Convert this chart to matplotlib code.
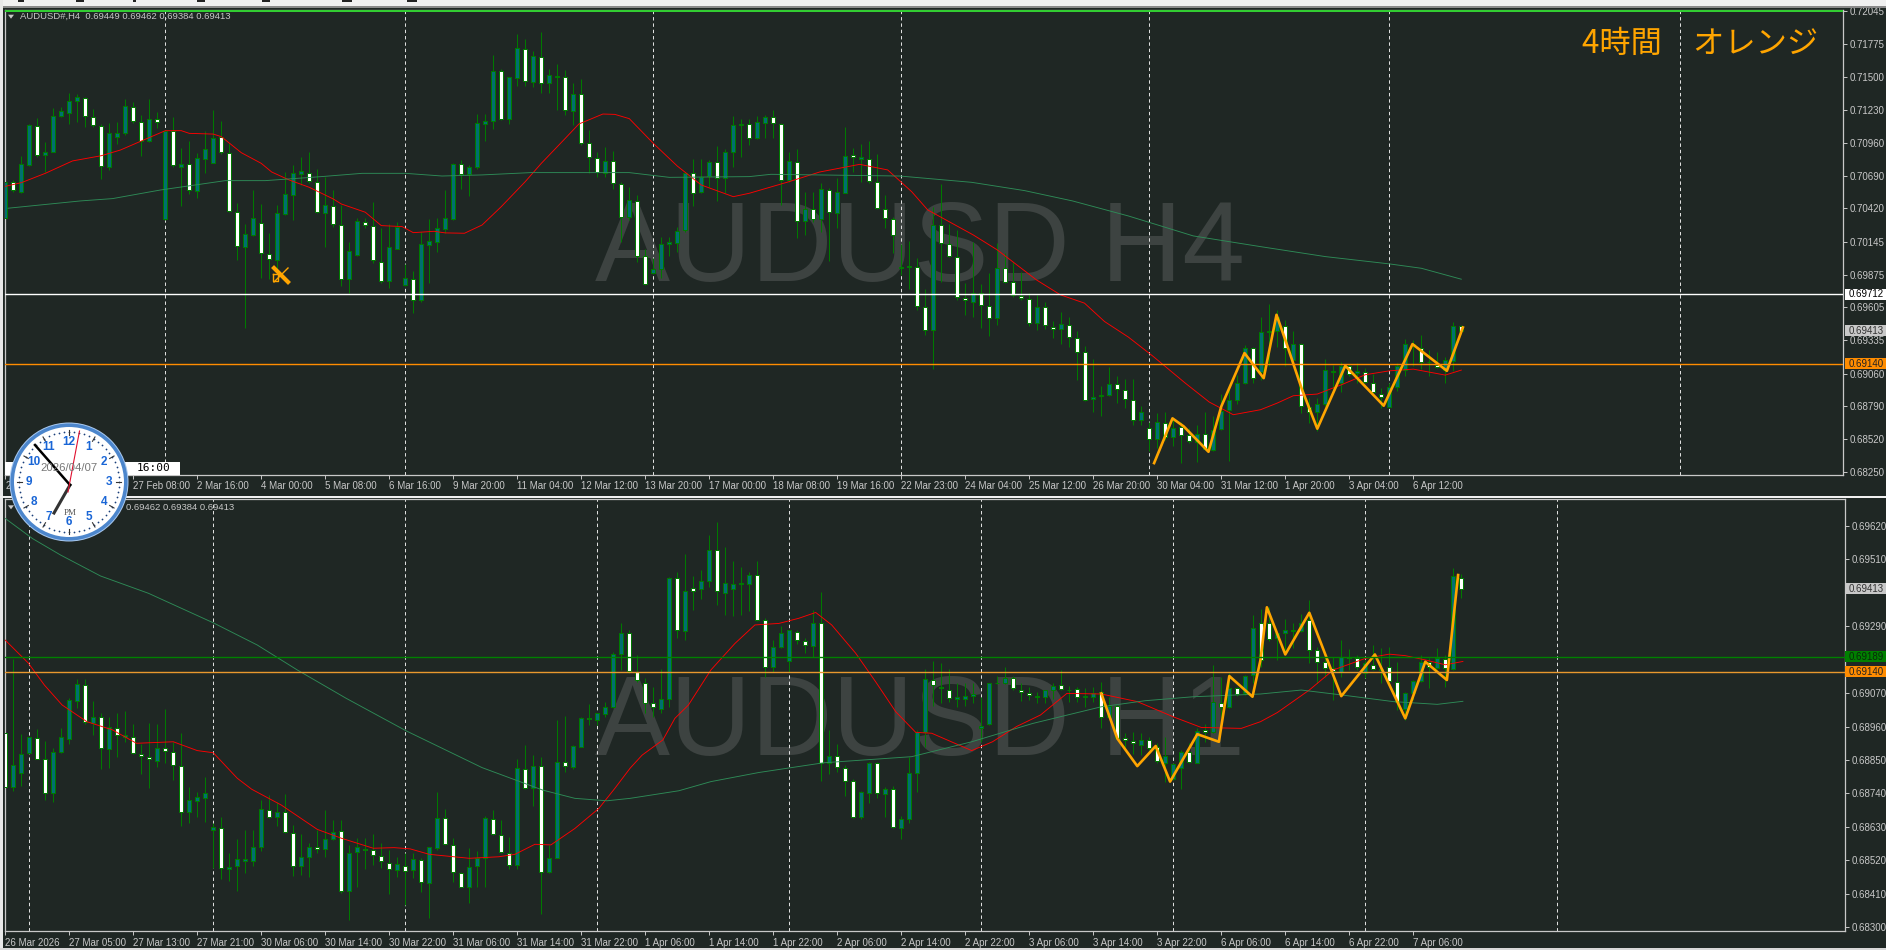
"""AUDUSD H4 / H1 MetaTrader screenshot, redrawn."""

import numpy as np
import matplotlib
matplotlib.use("Agg")
import matplotlib.pyplot as plt
from matplotlib.patches import Rectangle, Circle

# prices are in points (1e-5)
h4_open = [70338,70640,70557,70777,71100,70856,70886,71182,71207,71306,71330,71174,71100,70763,71010,71037,71251,71133,70977,71152,
           70336,71059,70763,70782,70566,70829,70796,71004,70878,70393,70105,70204,70303,70048,69999,70377,70533,70705,70714,70640,
           70385,70443,70286,69837,70040,70311,70278,69982,69826,70089,69790,69842,69662,70119,70146,70253,70333,70782,70703,70758,
           71117,71136,71552,71158,71495,71733,71462,71667,71448,71503,71503,71223,71363,70960,70837,70714,70812,70618,70347,70484,
           70029,69892,69919,70125,70138,70242,70714,70552,70686,70804,70667,70886,71103,71114,70996,71125,71174,71117,70653,70804,
           70319,70415,70330,70574,70385,70549,70862,70829,70829,70640,70418,70336,69928,69941,69941,69612,69415,70283,70130,70023,
           69686,69653,69724,69620,69516,69930,69810,69700,69678,69475,69612,69445,69426,69461,69355,69240,68850,68872,68881,68971,
           68927,68845,68675,68615,68522,68656,68535,68620,68557,68500,68560,68428,68604,68757,68842,68982,69267,69073,69401,69407,
           69453,69174,69300,68785,68741,68807,69075,68982,69119,69064,69075,68987,68894,68785,68946,69086,69294,69272,69157,69133,
           69086,69168,69449]
h4_high = [70708,70654,70853,71114,71160,70963,71248,71251,71366,71360,71338,71234,71114,71119,71133,71319,71297,71188,71319,71215,
           71064,71169,70914,70977,70873,71059,71229,71138,70955,70462,70292,70571,70456,70215,70448,70722,70777,70840,70886,70741,
           70681,70571,70448,70141,70338,70338,70473,70262,70292,70311,69963,69908,70223,70333,70338,70571,70790,70818,70777,71193,
           71193,71681,71566,71497,71854,71812,71714,71870,71563,71604,71558,71448,71481,71064,70886,70922,70894,70640,70599,70530,
           70084,70010,70182,70182,70270,70722,70823,70823,70818,70936,70908,71180,71152,71152,71180,71188,71229,71125,70881,70905,
           70557,70557,70626,70585,70667,71089,70919,70947,70974,70867,70530,70352,70125,70149,70010,69755,70429,70621,70292,70242,
           69804,70146,69799,69886,70133,70051,69982,69900,69727,69708,69653,69489,69566,69525,69407,69289,69179,68955,69114,69037,
           69018,69018,68796,68659,68735,68741,68694,68659,68612,68640,68741,68708,68892,68955,69051,69294,69283,69530,69634,69585,
           69503,69407,69311,68859,68859,69179,69133,69155,69141,69146,69105,69059,68941,68982,69146,69346,69338,69379,69251,69234,
           69196,69486,69462]
h4_low = [70262,70557,70544,70768,70840,70722,70881,71174,71114,71133,71092,71086,70662,70736,70949,71023,71125,70851,70968,71078,
          70325,70763,70443,70538,70508,70714,70790,70867,70388,69996,69434,70193,69845,69837,69900,70366,70325,70612,70632,70379,
          70105,70270,69777,69727,70029,70256,69968,69804,69763,70084,69782,69557,69653,69804,70064,70215,70325,70577,70522,70741,
          70974,71070,71147,71114,71429,71426,71415,71366,71366,71229,71188,71106,70941,70714,70681,70681,70577,70146,70325,69982,
          69790,69881,69845,70029,70064,70229,70440,70544,70599,70484,70544,70763,70845,70941,70988,70996,70996,70448,70640,70174,
          70201,70311,70223,69990,70262,70544,70722,70640,70626,70415,70256,70051,69873,69755,69585,69379,69097,69818,70023,69667,
          69544,69530,69434,69371,69461,69804,69694,69667,69453,69420,69426,69352,69305,69283,69004,68831,68744,68708,68872,68818,
          68776,68634,68634,68420,68448,68516,68461,68324,68489,68333,68434,68420,68593,68338,68812,68976,68982,69010,69119,69283,
          69125,69160,68735,68653,68585,68796,68914,68905,69042,68982,68982,68900,68776,68776,68914,69042,69119,69097,69042,69105,
          68982,69078,69384]
h4_close = [70640,70571,70782,71103,70856,70886,71182,71218,71306,71333,71177,71103,70766,71037,71037,71259,71136,70974,71152,71127,
            71059,70774,70785,70571,70832,70905,71001,70884,70396,70111,70207,70338,70051,70004,70379,70541,70708,70730,70645,70390,
            70445,70289,69837,70067,70314,70281,69993,69826,70100,70270,69845,69664,70125,70149,70262,70338,70785,70705,70758,71119,
            71136,71552,71155,71497,71736,71467,71670,71448,71514,71506,71226,71363,70960,70840,70716,70812,70626,70352,70489,70029,
            69796,69919,70125,70141,70237,70714,70544,70681,70804,70667,70886,71103,71111,70996,71127,71174,71122,70651,70807,70316,
            70415,70330,70577,70388,70552,70848,70843,70840,70642,70423,70341,70201,69941,69946,69618,69420,70283,70133,70029,69694,
            69667,69722,69626,69516,69933,69812,69711,69683,69475,69612,69461,69429,69467,69360,69240,68845,68867,68883,68974,68935,
            68850,68678,68744,68522,68659,68535,68609,68557,68508,68563,68439,68598,68749,68840,68982,69270,69023,69401,69410,69530,
            69270,69303,68790,68741,68809,69086,69081,69119,69059,69078,68993,68911,68867,68946,69125,69303,69303,69155,69157,69111,
            69174,69453,69413]

h1_open = [68940,68762,68808,68872,68923,68852,68743,68877,68920,69045,69098,68973,68992,68887,68956,68927,68927,68871,68860,68848,
           68889,68877,68831,68678,68716,68725,68619,68628,68491,68500,68519,68517,68563,68687,68662,68680,68611,68500,68532,68564,
           68556,68589,68618,68421,68547,68559,68555,68536,68513,68487,68502,68489,68521,68445,68560,68660,68572,68480,68432,68500,
           68528,68655,68605,68546,68506,68822,68757,68829,68481,68529,68843,68828,68894,68989,68983,69002,69023,69197,69268,69139,
           69104,69038,69019,69049,69449,69275,69414,69413,69439,69539,69400,69413,69427,69429,69459,69310,69157,69222,69176,69272,
           69242,69226,69301,68841,68864,68825,68782,68664,68743,68841,68738,68756,68628,68655,68808,68943,69113,69091,69081,69050,
           69052,69061,68954,68967,69102,69102,69120,69081,69071,69058,69058,69079,69098,69080,69083,69057,69057,69075,68990,69027,
           68922,68912,68901,68917,68894,68841,68786,68823,68877,68841,68949,68941,69038,69025,69086,69069,69130,69301,69301,69250,
           69268,69275,69275,69310,69211,69173,69153,69139,69188,69185,69137,69163,69146,69157,69107,69018,69071,69111,69171,69153,
           69182,69150,69449]
h1_high = [68940,69181,68935,68927,68951,68914,68888,68954,69053,69115,69115,69044,69006,68992,69006,69011,68967,68903,68973,68968,
           69019,68910,68938,68762,68746,68794,68642,68664,68543,68590,68620,68620,68719,68735,68713,68738,68636,68607,68576,68620,
           68686,68653,68653,68571,68593,68593,68607,68576,68554,68530,68543,68543,68527,68563,68744,68688,68593,68483,68560,68552,
           68666,68686,68653,68598,68855,68899,68866,68861,68571,68981,68995,68899,68992,69033,69003,69040,69206,69301,69277,69195,
           69118,69091,69148,69450,69467,69526,69455,69474,69589,69633,69549,69504,69483,69469,69504,69316,69244,69290,69277,69279,
           69250,69343,69402,68949,68903,68834,68786,68748,68845,68845,68762,68765,68666,68859,68949,69148,69176,69170,69148,69102,
           69102,69102,69058,69102,69126,69157,69126,69102,69091,69075,69080,69102,69146,69093,69091,69086,69089,69106,69058,69031,
           68938,68943,68938,68927,68905,68927,68839,68883,68905,68954,68970,69162,69124,69135,69091,69129,69326,69348,69354,69272,
           69312,69301,69330,69376,69222,69195,69190,69244,69214,69195,69179,69228,69217,69222,69173,69075,69113,69195,69184,69219,
           69195,69481,69462]
h1_low = [68751,68748,68765,68870,68852,68719,68713,68872,68903,69020,68970,68932,68819,68825,68859,68910,68870,68804,68759,68828,
          68839,68784,68634,68644,68662,68647,68494,68458,68453,68421,68480,68500,68551,68658,68633,68609,68469,68472,68467,68543,
          68530,68587,68412,68324,68434,68492,68505,68494,68410,68464,68373,68461,68417,68332,68554,68571,68448,68432,68379,68434,
          68432,68603,68546,68491,68491,68754,68699,68343,68478,68527,68812,68819,68892,68965,68965,68992,69020,69146,69135,69107,
          69003,68992,69006,69025,69252,69244,69343,69378,69420,69359,69326,69324,69326,69341,69308,69122,69138,69217,69139,69233,
          69203,69190,68782,68804,68812,68732,68658,68655,68708,68724,68664,68625,68589,68644,68746,68892,69027,69036,69042,69023,
          69027,69036,68910,68965,69100,69100,69080,69045,69047,69038,69038,69049,69080,69042,69042,69025,69042,68954,68987,68920,
          68885,68870,68866,68883,68841,68779,68784,68754,68839,68839,68910,68938,68987,69020,69060,69064,69102,69157,69242,69179,
          69198,69217,69272,69170,69104,69124,69047,69124,69146,69146,69118,69146,69102,69102,69014,68981,69047,69107,69086,69150,
          69091,69146,69384]
h1_close = [68762,68832,68869,68925,68855,68740,68878,68925,69046,69099,68974,68990,68888,68957,68931,68931,68874,68863,68853,68888,
            68880,68834,68678,68717,68727,68740,68629,68494,68497,68524,68524,68563,68688,68662,68680,68612,68502,68530,68565,68557,
            68589,68615,68421,68546,68563,68553,68538,68518,68492,68507,68485,68524,68448,68563,68660,68574,68481,68434,68497,68529,
            68658,68606,68548,68505,68823,68757,68829,68481,68529,68845,68829,68895,68989,68984,69003,69023,69197,69266,69141,69113,
            69036,69024,69049,69448,69279,69404,69406,69437,69539,69404,69431,69427,69431,69457,69310,69157,69222,69268,69276,69244,
            69228,69301,68841,68864,68826,68781,68662,68744,68839,68740,68754,68629,68655,68806,68941,69115,69096,69086,69054,69056,
            69062,69068,68962,69102,69103,69121,69087,69072,69064,69061,69080,69092,69082,69081,69057,69059,69069,68992,69027,68923,
            68916,68906,68915,68888,68847,68864,68836,68877,68843,68946,68941,69040,69025,69088,69067,69127,69283,69179,69247,69266,
            69279,69279,69301,69211,69172,69151,69141,69190,69184,69156,69168,69149,69149,69111,69042,69071,69109,69171,69157,69184,
            69151,69455,69413]

h4_ma_fast_x = [0,2,5,8.4,12,14.4,17,20,22,23,26,27,29.5,32,33.3,35.5,38,41,42,45,47,49.6,51,53.6,55,57.4,59.6,62,65,67,70,71.7,74.7,76.2,78,
                81,84,87,91,93,98,101.8,106.8,110.3,113.3,115.3,121,124,128.9,131.9,134.9,137.4,140.4,143.5,147.5,150.5,153.5,156.9,
                159,161,164,167,170,173,176,180,182]
h4_ma_fast = [70601,70631,70708,70810,70853,70900,70974,71059,71059,71037,71031,71010,70878,70790,70719,70653,70593,70497,70456,70388,70278,70270,70220,70231,70218,70215,70283,70434,70640,70790,70996,71114,71196,71193,71158,
              70955,70768,70612,70516,70544,70640,70719,70782,70736,70557,70407,70201,70078,69831,69708,69640,69489,69360,69201,68982,68826,68722,68763,
              68818,68878,68892,68968,69051,69083,69097,69048,69089]
h4_ma_slow_x = [0.35,9.4,13.4,19.4,27.5,32.5,39.5,44.6,50,54.6,59.6,65.7,78,83,93,95.7,111.8,120.8,127.4,133.4,140.4,148.5,156.9,165,173,177,182]
h4_ma_slow = [70421,70481,70500,70571,70648,70648,70681,70708,70708,70686,70695,70714,70714,70675,70681,70700,70686,70634,70566,70481,70357,70193,70105,70023,69963,69927,69837]
h4_zig_x = [143.6,145.9,147.3,150.4,152,154.9,157.3,158.9,160,162.1,164,167.5,172.3,175.9,180.2,182.2]
h4_zig = [68324,68692,68626,68417,68790,69229,69023,69544,69338,68927,68607,69125,68796,69303,69083,69440]

h1_ma_fast_x = [0,2.9,4.9,7.1,10.2,13.4,16.4,21,24,26,29,30.8,34.5,39,42,46,48.6,50.6,53,58,61.7,63.7,66.2,68.2,71.2,74.2,76.2,78.1,
                79.6,82.2,83.7,85.4,88.2,91.2,93.7,96.7,99.2,101.3,103.3,106.3,108.8,111.3,113.8,115.8,120.8,123.4,126.4,129.4,132.7,137,141.5,146,149.5,154.5,156.9,
                159,163,166,170,173,175,177.5,180,182.2]
h1_ma_fast = [69244,69168,69096,69031,68976,68949,68905,68910,68881,68874,68790,68754,68702,68622,68593,68560,68562,68558,68540,68527,68532,68540,68573,68571,68625,68691,68757,68823,
              68866,68916,68987,69031,69146,69233,69294,69299,69316,69335,69294,69201,69107,69009,68941,68938,68881,68910,68960,68998,69069,69067,69042,68992,68957,68954,68976,
              69006,69080,69146,69184,69198,69193,69179,69163,69174]
h1_ma_slow_x = [0,3.4,6.9,11.9,17.9,26,31.5,36.5,42.6,50.1,59.6,67.2,71.2,75.2,78.1,84.2,88.2,94.2,102.3,113.3,120.8,128.4,137,142.5,148.5,156.9,162,167,173.5,179,182.2]
h1_ma_slow = [69644,69578,69524,69455,69398,69301,69228,69146,69053,68946,68825,68751,68724,68716,68724,68749,68779,68809,68841,68861,68910,68970,69025,69045,69058,69067,69080,69064,69042,69033,69043]
h1_zig_x = [137,139,141.5,143.8,145.6,149,151.7,153,155.9,156.9,157.7,160,163,167,171.2,175,177.5,180.2,181.6]
h1_zig = [69069,68921,68830,68896,68779,68935,68910,69126,69058,69179,69352,69197,69334,69060,69197,68987,69173,69113,69458]

h4_yticks = [72045,71775,71500,71230,70960,70690,70420,70145,69875,69605,69335,69060,68790,68520,68250]
h1_yticks = [69620,69510,69290,69070,68960,68850,68740,68630,68520,68410,68300]
# the clock covers the first two H4 date labels, only a "2" is left showing
h4_dates = ["2","","27 Feb 08:00","2 Mar 16:00","4 Mar 00:00","5 Mar 08:00","6 Mar 16:00","9 Mar 20:00",
            "11 Mar 04:00","12 Mar 12:00","13 Mar 20:00","17 Mar 00:00","18 Mar 08:00","19 Mar 16:00","22 Mar 23:00","24 Mar 04:00",
            "25 Mar 12:00","26 Mar 20:00","30 Mar 04:00","31 Mar 12:00","1 Apr 20:00","3 Apr 04:00","6 Apr 12:00"]
h1_dates = ["26 Mar 2026","27 Mar 05:00","27 Mar 13:00","27 Mar 21:00","30 Mar 06:00","30 Mar 14:00","30 Mar 22:00","31 Mar 06:00",
            "31 Mar 14:00","31 Mar 22:00","1 Apr 06:00","1 Apr 14:00","1 Apr 22:00","2 Apr 06:00","2 Apr 14:00","2 Apr 22:00",
            "3 Apr 06:00","3 Apr 14:00","3 Apr 22:00","6 Apr 06:00","6 Apr 14:00","6 Apr 22:00","7 Apr 06:00"]
h4_separators = [20, 50, 81, 112, 143, 173, 209.4]
h1_separators = [3, 26, 50, 74, 98, 122, 146, 170, 194]

W, H = 1886, 950
BG = "#1f2724"
GREY = "#c8c8c8"
WICK = "#007a00"
TEAL = "#007070"
LABEL_SIZE = 7
plt.rcParams["font.family"] = ["Liberation Sans", "Noto Sans CJK JP", "DejaVu Sans"]

fig = plt.figure(figsize=(W / 100, H / 100), dpi=100, facecolor=BG)


def px_axes(left, top, right, bottom, **kw):
    return fig.add_axes([left / W, 1 - bottom / H, (right - left) / W, (bottom - top) / H], **kw)


def draw_panel(ax, o, h, l, c, ylim, yticks, dates, separators, fast, slow, zig):
    o, h, l, c = [np.array(a) / 1e5 for a in (o, h, l, c)]
    x = np.arange(len(o))
    ax.patch.set_alpha(0)  # watermark sits behind the candles
    ax.vlines(separators, *ylim, color="#e6e6e6", lw=0.7, ls=(0, (3.5, 3)), zorder=1)
    ax.vlines(x, l, h, color=WICK, lw=0.72, zorder=2)
    colors = [TEAL if cl >= op else "white" for op, cl in zip(o, c)]
    ax.bar(x, np.abs(c - o), bottom=np.minimum(o, c), width=0.55, color=colors,
           edgecolor=WICK, lw=0.72, zorder=3)
    ax.plot(fast[0], np.array(fast[1]) / 1e5, color="#ff0000", lw=0.65, zorder=4)
    ax.plot(slow[0], np.array(slow[1]) / 1e5, color="#2e8b57", lw=0.65, zorder=4)
    ax.plot(zig[0], np.array(zig[1]) / 1e5, color="#ffa500", lw=1.9, zorder=5)
    ax.set_xlim(-0.06, (ax.get_position().x1 * W - 5.3) / 8)
    ax.set_ylim(*ylim)
    for s in ax.spines.values():
        s.set_color(GREY)
        s.set_linewidth(0.9)
    ax.yaxis.tick_right()
    ax.set_yticks(np.array(yticks) / 1e5)
    ax.set_yticklabels([f"{t / 1e5:.5f}" for t in yticks], fontsize=LABEL_SIZE, color=GREY)
    ax.set_xticks(np.arange(len(dates)) * 8)
    ax.set_xticklabels(dates, fontsize=LABEL_SIZE, color=GREY, ha="left")
    ax.tick_params(axis="y", length=3, width=0.7, color=GREY, pad=1.5)
    ax.tick_params(axis="x", length=3, width=0.7, color=GREY, pad=1.5)


top = px_axes(4.8, 9.5, 1843, 475)
bot = px_axes(4.8, 499.3, 1845, 931.3)
draw_panel(top, h4_open, h4_high, h4_low, h4_close, (0.68226, 0.72056), h4_yticks, h4_dates, h4_separators,
           (h4_ma_fast_x, h4_ma_fast), (h4_ma_slow_x, h4_ma_slow), (h4_zig_x, h4_zig))
draw_panel(bot, h1_open, h1_high, h1_low, h1_close, (0.68287, 0.69707), h1_yticks, h1_dates, h1_separators,
           (h1_ma_fast_x, h1_ma_fast), (h1_ma_slow_x, h1_ma_slow), (h1_zig_x, h1_zig))

top.axhline(0.69712, color="white", lw=1.0, zorder=6)
top.axhline(0.69140, color="#ff8c00", lw=1.0, zorder=6)
bot.axhline(0.69189, color="#008000", lw=1.0, zorder=6)
bot.axhline(0.69140, color="#e8982e", lw=1.0, zorder=6)

fig.text(595 / W, 1 - 281 / H, "AUDUSD H4", fontsize=81, color="#3d4341", zorder=-1, ha="left", va="baseline")
fig.text(595 / W, 1 - 755 / H, "AUDUSD H1", fontsize=81, color="#3d4341", zorder=-1, ha="left", va="baseline")

# everything that is screen furniture goes on one overlay in pixel coordinates
ov = fig.add_axes([0, 0, 1, 1], zorder=10)
ov.set_xlim(0, W)
ov.set_ylim(H, 0)
ov.axis("off")
ov.patch.set_alpha(0)

ov.add_patch(Rectangle((0, 0), W, 6, color="#f0f0f0", lw=0))
ov.add_patch(Rectangle((0, 6), W, 2, color="#8a8a8a", lw=0))
for bx, bw in [(18, 6), (76, 8), (133, 3), (197, 8), (262, 8), (342, 10), (407, 10)]:
    ov.add_patch(Rectangle((bx, 0), bw, 1.5, color="#222222", lw=0))
ov.add_patch(Rectangle((0, 0), 3, H, color="#e8e8e8", lw=0))
ov.add_patch(Rectangle((4.8, 9.5), 1843 - 4.8, 2.8, color="#32cd32", lw=0))
ov.add_patch(Rectangle((0, 496), W, 2, color="#f0f0f0", lw=0))
ov.add_patch(Rectangle((0, 948), W, 2, color="#d8d8d8", lw=0))

ov.text(20.5, 16.7, "AUDUSD#,H4  0.69449 0.69462 0.69384 0.69413", fontsize=6.8, color=GREY, va="center")
ov.text(125.5, 507.3, "0.69462 0.69384 0.69413", fontsize=6.8, color=GREY, va="center")
for ty in (14.7, 505.3):
    ov.fill([8, 14, 11], [ty, ty, ty + 4], color=GREY, lw=0)
ov.text(1818, 44, "4時間　オレンジ", fontsize=22.5, color="#ffa500", ha="right", va="center",
        family=["Noto Sans CJK JP", "DejaVu Sans"])


def price_tag(ax, price, text, face, ink):
    y = H - ax.transData.transform((0, price))[1]
    ov.add_patch(Rectangle((1845, y - 5.5), 41, 11, color=face, lw=0))
    ov.text(1848.8, y, text, fontsize=LABEL_SIZE, color=ink, va="center")


price_tag(top, 0.69712, "0.69712", "white", "black")
price_tag(top, 0.69413, "0.69413", "#c8c8c8", "#333333")
price_tag(top, 0.69140, "0.69140", "#ff8c00", "#222222")
price_tag(bot, 0.69413, "0.69413", "#c8c8c8", "#333333")
price_tag(bot, 0.69189, "0.69189", "#008000", "#0a2a0a")
price_tag(bot, 0.69140, "0.69140", "#ff8c00", "#222222")

# crosshair time box
ov.add_patch(Rectangle((5, 462), 175, 12.5, color="white", lw=0))
ov.text(154, 468.3, "16:00", fontsize=8, color="black", ha="center", va="center", family="DejaVu Sans Mono")

# cursor icon in the H4 panel
ov.plot([274, 288], [268, 282], color="#ffa500", lw=3)
ov.plot([274, 288], [282, 268], color="#ffa500", lw=1)
ov.plot([273, 278, 278, 273, 273], [274, 274, 281, 281, 274], color="#ffa500", lw=1)

# desktop clock
cx, cy, r = 69, 482, 58.5
ov.add_patch(Circle((cx, cy), r + 1, color="#a8c8ee", lw=0))
ov.add_patch(Circle((cx, cy), r, color="#4c86cc", lw=0))
ov.add_patch(Circle((cx, cy), r - 3.5, color="white", lw=0))
ang = np.deg2rad(np.arange(0, 360, 6))
ov.scatter(cx + 50 * np.sin(ang), cy - 50 * np.cos(ang), s=1.6, color="#1a3f7a", lw=0)
for hr in range(1, 13):
    a = np.deg2rad(hr * 30)
    ov.plot([cx + 47 * np.sin(a), cx + 52 * np.sin(a)], [cy - 47 * np.cos(a), cy - 52 * np.cos(a)],
            color="#333333", lw=0.8)
    ov.text(cx + 40 * np.sin(a), cy - 40 * np.cos(a), str(hr), fontsize=8.5, fontweight="bold",
            color="#1a66d6", ha="center", va="center")
ov.text(69, 468, "2026/04/07", fontsize=8.2, color="#777777", ha="center", va="center")
ov.text(70, 513, "PM", fontsize=6.5, color="#555555", ha="center", va="center", family="Liberation Serif")
ov.plot([70, 54], [485, 513], color="#333333", lw=2.2)
ov.plot([70, 35], [485, 445], color="black", lw=1.8)
ov.plot([68, 79.5], [492, 431], color="#e01030", lw=0.8)

fig.savefig("out.png", dpi=100, facecolor=BG)
plt.close(fig)
